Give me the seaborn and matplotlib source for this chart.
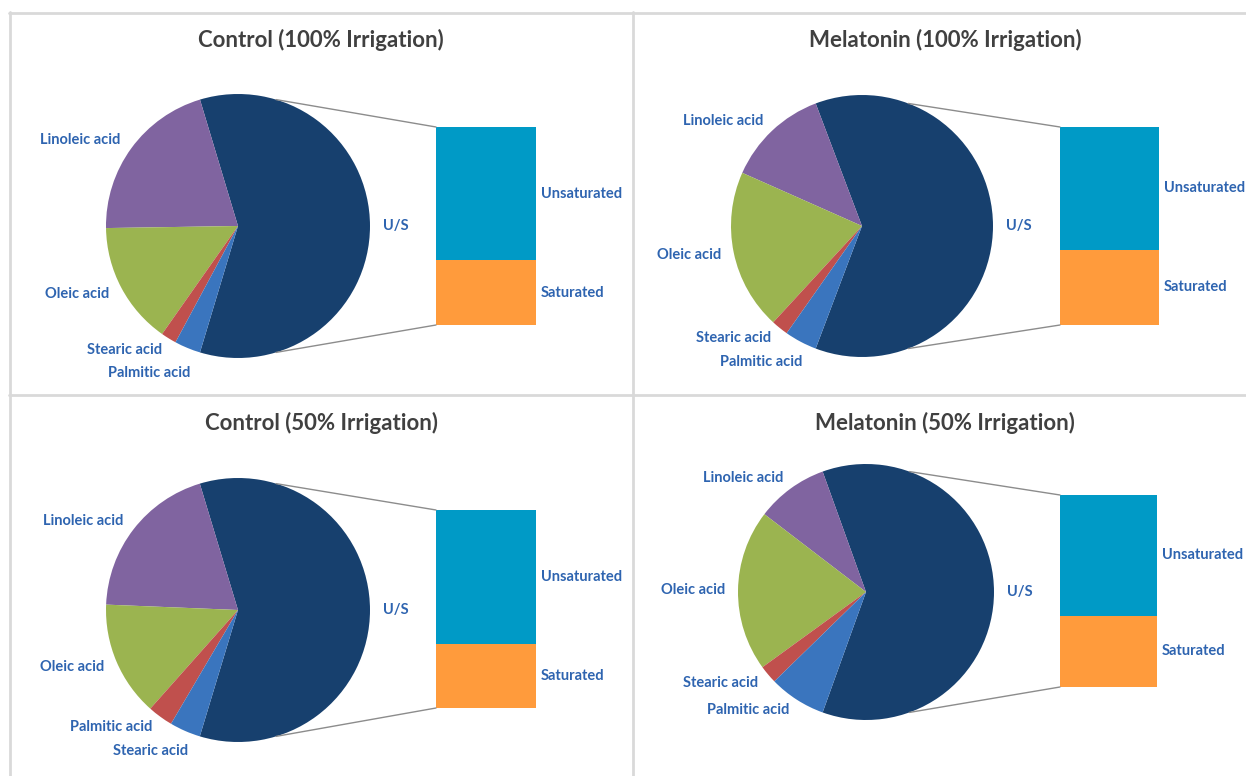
import numpy as np
import seaborn as sns
import matplotlib.pyplot as plt
from matplotlib.lines import Line2D
from matplotlib.patches import ConnectionPatch
from matplotlib.transforms import blended_transform_factory

# Data (percent of total fatty acids)
titles = ["Control (100% Irrigation)", "Melatonin (100% Irrigation)",
          "Control (50% Irrigation)", "Melatonin (50% Irrigation)"]
us_share = [59.3, 61.5, 59.4, 61.0]
linoleic = [20.6, 12.6, 19.7, 9.1]
oleic = [15.0, 19.8, 14.1, 20.4]
stearic = [1.9, 2.1, 3.8, 2.3]
palmitic = [3.2, 4.0, 3.1, 7.2]
# order of the two small slices after oleic (panel 3 has them swapped)
small_order = [["Stearic acid", "Palmitic acid"], ["Stearic acid", "Palmitic acid"],
               ["Palmitic acid", "Stearic acid"], ["Stearic acid", "Palmitic acid"]]
# secondary bar, share of the U/S slice
unsaturated = [67.2, 62.1, 67.5, 63.0]
saturated = [32.8, 37.9, 32.5, 37.0]

# Layout in pixels: pie centre x, y, radius ; bar left, top, width, height
pie_pos = [(238, 226, 132), (862, 226, 131), (238, 610, 132), (866, 592, 128)]
bar_pos = [(436, 127, 100, 198), (1060, 127, 99, 198), (436, 510, 100, 198), (1060, 495, 97, 192)]
title_pos = [(321, 40), (945, 40), (321, 423), (945, 423)]

W, H = 1246, 776

sns.set_theme(style="white")
plt.rcParams["font.family"] = ["Lato", "DejaVu Sans"]

pie_colors = sns.color_palette(["#17406E", "#8064A0", "#9BB450", "#C0504D", "#3A75BE"])
bar_colors = sns.color_palette(["#009AC6", "#FF9B3C"])
label_blue = "#2E64B0"
title_grey = "#404040"


def px_axes(fig, x, y, w, h):
    # add axes from pixel coordinates measured from the top-left corner
    return fig.add_axes([x / W, 1 - (y + h) / H, w / W, h / H])


fig = plt.figure(figsize=(W / 100, H / 100), dpi=100)

# panel borders
border = "#D9D9D9"
for (x0, y0, x1, y1) in [(9, 12.5, W, 12.5), (9, 395, W, 395), (9.5, 12, 9.5, H), (633, 12, 633, H)]:
    fig.add_artist(Line2D([x0 / W, x1 / W], [1 - y0 / H, 1 - y1 / H],
                          transform=fig.transFigure, color=border, lw=2))

for i in range(4):
    smalls = {"Stearic acid": stearic[i], "Palmitic acid": palmitic[i]}
    labels = ["U/S", "Linoleic acid", "Oleic acid"] + small_order[i]
    values = [us_share[i], linoleic[i], oleic[i]] + [smalls[k] for k in small_order[i]]
    total = sum(values)
    half = 180 * us_share[i] / total

    cx, cy, r = pie_pos[i]
    ax = px_axes(fig, cx - r, cy - r, 2 * r, 2 * r)
    wedges, texts = ax.pie(values, labels=labels, colors=pie_colors, startangle=-half,
                           counterclock=True, labeldistance=1.1,
                           wedgeprops=dict(linewidth=0),
                           textprops=dict(color=label_blue, fontsize=10.5, fontweight="bold"))
    # push the last small label down if it collides with the previous one
    x3, y3 = texts[3].get_position()
    x4, y4 = texts[4].get_position()
    if y3 - y4 < 0.18:
        texts[4].set_position((x4 + 0.06, y3 - 0.18))
    ax.set_xlim(-1, 1)
    ax.set_ylim(-1, 1)
    ax.axis("off")

    # secondary stacked bar
    bx, by, bw, bh = bar_pos[i]
    bax = px_axes(fig, bx, by, bw, bh)
    bax.bar([0], [saturated[i]], width=1, color=bar_colors[1], linewidth=0)
    bax.bar([0], [unsaturated[i]], bottom=[saturated[i]], width=1, color=bar_colors[0], linewidth=0)
    bax.set_xlim(-0.5, 0.5)
    bax.set_ylim(0, saturated[i] + unsaturated[i])
    bax.axis("off")
    tr = blended_transform_factory(bax.transAxes, bax.transData)
    bax.text(1.05, saturated[i] + unsaturated[i] / 2, "Unsaturated", transform=tr,
             ha="left", va="center", color=label_blue, fontsize=10.5, fontweight="bold")
    bax.text(1.05, saturated[i] / 2, "Saturated", transform=tr,
             ha="left", va="center", color=label_blue, fontsize=10.5, fontweight="bold")

    # connector lines from pie to bar
    a = np.deg2rad(180 - half)
    for sign, yb in [(1, saturated[i] + unsaturated[i]), (-1, 0)]:
        con = ConnectionPatch(xyA=(np.cos(a), sign * np.sin(a)), coordsA=ax.transData,
                              xyB=(-0.5, yb), coordsB=bax.transData,
                              color="#8C8C8C", lw=1)
        fig.add_artist(con)

    tx, ty = title_pos[i]
    fig.text(tx / W, 1 - ty / H, titles[i], ha="center", va="center",
             fontsize=16, fontweight="bold", color=title_grey)

fig.savefig("out.png", dpi=100, facecolor="white")
